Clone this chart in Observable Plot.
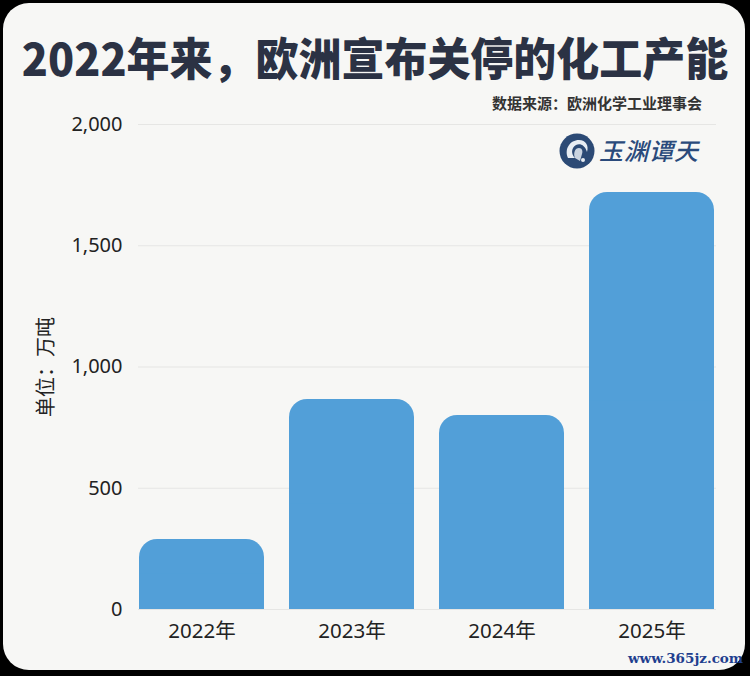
<!DOCTYPE html>
<html><head><meta charset="utf-8">
<script src="https://cdn.jsdelivr.net/npm/d3@7"></script>
<script src="https://cdn.jsdelivr.net/npm/@observablehq/plot@0.6"></script>
<style>
html,body{margin:0;padding:0;background:#000;width:750px;height:676px;overflow:hidden;}
#card{position:absolute;left:3px;top:3px;width:742px;height:667px;background:#f7f7f5;border-radius:26px;}
#title{position:absolute;left:0;top:27px;width:750px;text-align:center;font-family:"Noto Sans CJK SC";font-weight:900;font-size:45px;line-height:60px;color:#2b3244;white-space:nowrap;transform:scaleX(0.955);transform-origin:376px 0;}
#sub{position:absolute;right:48px;top:92px;font-family:"Noto Sans CJK SC";font-weight:700;font-size:15px;line-height:22px;color:#333;white-space:nowrap;}
#logo{position:absolute;left:558px;top:131px;}
#logotext{position:absolute;left:599px;top:133px;font-family:"Noto Sans CJK SC";font-weight:500;font-size:24px;line-height:34px;color:#2a4a7b;font-style:italic;letter-spacing:1px;white-space:nowrap;}
#wm{position:absolute;left:628px;top:650px;font-family:"DejaVu Serif";font-weight:700;font-size:13.5px;color:#1f3f8f;white-space:nowrap;}
#chart{position:absolute;left:0;top:0;}
</style></head>
<body>
<div id="card"></div>
<div id="chart"></div>
<div id="title">2022年来，欧洲宣布关停的化工产能</div>
<div id="sub">数据来源：欧洲化学工业理事会</div>
<svg id="logo" width="40" height="40" viewBox="0 0 40 40">
  <circle cx="19" cy="20" r="17.5" fill="#2c4a75"/>
  <path d="M10 27 C6 18 12 9 21 9 C28 9 31 15 29 21 C27 14 22 12 18 14 C13 17 13 23 17 27 Z" fill="#e8edf3"/>
  <path d="M17 27 C15 22 17 17 21 17 C24 17 25 20 24 23 L22 30 Z" fill="#c9d3e0"/>
  <circle cx="25" cy="29" r="2" fill="#e8edf3"/>
</svg>
<div id="logotext">玉渊谭天</div>
<div id="wm">www.365jz.com</div>
<script>
const years = ["2022年", "2023年", "2024年", "2025年"];
const capacity = [289, 866, 800, 1720];
const yTicks = [0, 500, 1000, 1500, 2000];
const yLabel = "单位：万吨";

const data = years.map((year, i) => ({year, value: capacity[i]}));

const chart = Plot.plot({
  width: 750,
  height: 676,
  marginTop: 124,
  marginBottom: 67,
  marginLeft: 138,
  marginRight: 34,
  style: {background: "transparent", fontFamily: "'Noto Sans', 'Noto Sans CJK SC', sans-serif", fontSize: "20px", color: "#222"},
  x: {domain: years, paddingInner: 0.166, paddingOuter: 0},
  y: {domain: [0, 2000]},
  marks: [
    Plot.gridY(yTicks, {stroke: "#e6e6e4", strokeOpacity: 1, strokeWidth: 1.2}),
    Plot.barY(data, {x: "year", y: "value", fill: "#529fd8", rx: 18}),
    Plot.barY(data, {x: "year", y1: 0, y2: d => d.value / 2, fill: "#529fd8"}),
    Plot.axisY(yTicks, {tickFormat: d3.format(","), tickSize: 0, tickPadding: 16, fontSize: 20, label: yLabel, labelAnchor: "center", labelOffset: 100, labelArrow: "none"}),
    Plot.axisX({tickSize: 0, tickPadding: 14, fontSize: 20.5, label: null})
  ]
});
document.getElementById("chart").appendChild(chart);
</script>
</body></html>
